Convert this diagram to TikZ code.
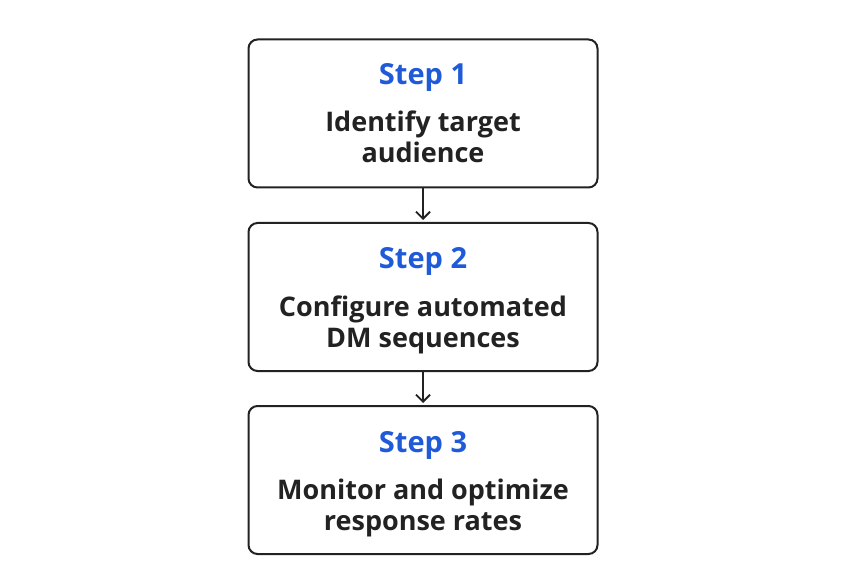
\documentclass[tikz,border=0pt]{standalone}
\usepackage{fontspec}
\setmainfont{Open Sans}
\usetikzlibrary{arrows.meta}
\definecolor{stepblue}{HTML}{1F5AD8}
\definecolor{ink}{HTML}{222222}
\tikzset{
  stepbox/.style={draw=ink, line width=2pt, rounded corners=9pt, fill=white,
    minimum width=349pt, minimum height=148pt, inner sep=0pt},
  steptitle/.style={anchor=base, text=stepblue, font=\bfseries\fontsize{29}{34}\selectfont, inner sep=0pt},
  stepbody/.style={anchor=base, text=ink, align=center, font=\bfseries\fontsize{27}{31}\selectfont, inner sep=0pt},
  flow/.style={draw=ink, line width=1.8pt, shorten >=2pt, -{Straight Barb[length=7pt,width=14pt,line width=1.8pt]}}
}
\begin{document}
\begin{tikzpicture}[x=1pt,y=-1pt]
\useasboundingbox[fill=white] (0,0) rectangle (846,564);
\node[stepbox] (b1) at (423,113.5) {};
\node[stepbox] (b2) at (423,297) {};
\node[stepbox] (b3) at (423,480) {};
\node[steptitle] (t1) at (423,85) {Step 1};
\node[steptitle] (t2) at (423,269) {Step 2};
\node[steptitle] (t3) at (423,452) {Step 3};
\node[stepbody] (l1) at (423,163) {Identify target\\audience};
\node[stepbody] (l2) at (423,347) {Configure automated\\DM sequences};
\node[stepbody] (l3) at (423,530) {Monitor and optimize\\response rates};
\draw[flow] (b1.south) -- (b2.north);
\draw[flow] (b2.south) -- (b3.north);
\end{tikzpicture}
\end{document}
